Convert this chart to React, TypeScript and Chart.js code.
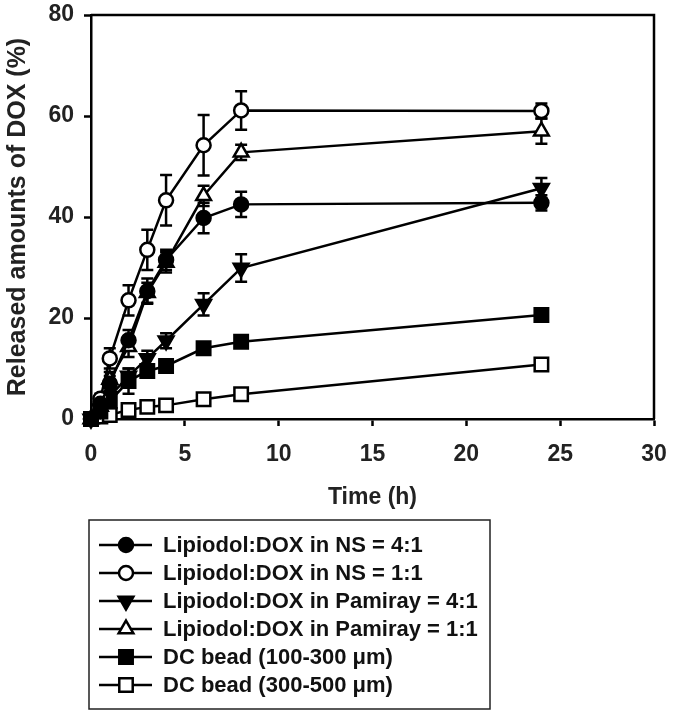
import React, { useEffect, useRef } from "react";
import { Chart, registerables } from "chart.js";

Chart.register(...registerables);

const times = [0, 0.5, 1, 2, 3, 4, 6, 8, 24];

const labels = [
  "Lipiodol:DOX in NS = 4:1",
  "Lipiodol:DOX in NS = 1:1",
  "Lipiodol:DOX in Pamiray = 4:1",
  "Lipiodol:DOX in Pamiray = 1:1",
  "DC bead (100-300 \u03bcm)",
  "DC bead (300-500 \u03bcm)",
];

const ns41 = [0, 3, 7, 15.6, 25.3, 31.5, 39.8, 42.5, 42.8];
const ns41Err = [0, 1, 1.5, 2, 2.5, 2, 3, 2.5, 1.5];
const ns11 = [0, 4, 12, 23.5, 33.5, 43.3, 54.2, 61.1, 61];
const ns11Err = [0, 1, 2, 3, 4, 5, 6, 3.8, 1.5];
const pam41 = [0, 2, 4.5, 8.5, 12, 15.5, 22.7, 29.9, 45.7];
const pam41Err = [0, 1, 1, 1.5, 1.5, 1.5, 2.2, 2.7, 2];
const pam11 = [0, 2.5, 7.8, 14.3, 25, 31, 44.2, 52.8, 57];
const pam11Err = [0, 1, 1.5, 2, 2, 2, 2, 1.5, 2.5];
const dc100 = [0, 1.5, 3.5, 7.5, 9.5, 10.5, 14, 15.3, 20.6];
const dc100Err = [0, 0.5, 1, 2.5, 1, 1, 1, 1, 1];
const dc300 = [0, 0.5, 0.8, 1.8, 2.4, 2.7, 3.9, 4.9, 10.8];
const dc300Err = [0, 0.3, 0.3, 0.3, 0.3, 0.3, 0.4, 0.4, 0.5];

const xTicks = [0, 5, 10, 15, 20, 25, 30];
const yTicks = [0, 20, 40, 60, 80];

const seriesValues = [ns41, ns11, pam41, pam11, dc100, dc300];
const seriesErrors = [ns41Err, ns11Err, pam41Err, pam11Err, dc100Err, dc300Err];
const seriesStyle = ["circle", "circle", "triangle", "triangle", "rect", "rect"];
const seriesFilled = [true, false, true, false, true, false];
const seriesRotation = [0, 0, 180, 0, 0, 0];

const FONT = "'Liberation Sans', Arial, sans-serif";

function radiusFor(style: string) {
  if (style === "rect") return 9.5;
  if (style === "triangle") return 8.5;
  return 7;
}

function drawMarker(ctx: CanvasRenderingContext2D, style: string, filled: boolean, rot: number, x: number, y: number) {
  const r = radiusFor(style);
  ctx.save();
  ctx.beginPath();
  if (style === "circle") {
    ctx.arc(x, y, r, 0, Math.PI * 2);
  } else if (style === "rect") {
    const s = Math.SQRT1_2 * r;
    ctx.rect(x - s, y - s, 2 * s, 2 * s);
  } else {
    let a = (rot * Math.PI) / 180;
    ctx.moveTo(x + Math.sin(a) * r, y - Math.cos(a) * r);
    a += (2 * Math.PI) / 3;
    ctx.lineTo(x + Math.sin(a) * r, y - Math.cos(a) * r);
    a += (2 * Math.PI) / 3;
    ctx.lineTo(x + Math.sin(a) * r, y - Math.cos(a) * r);
    ctx.closePath();
  }
  ctx.fillStyle = filled ? "#000" : "#fff";
  ctx.fill();
  ctx.lineWidth = 2.5;
  ctx.strokeStyle = "#000";
  ctx.stroke();
  ctx.restore();
}

const errorBarPlugin = {
  id: "errorBars",
  beforeDatasetsDraw(chart: any) {
    const ctx = chart.ctx as CanvasRenderingContext2D;
    const xs = chart.scales.x;
    const ys = chart.scales.y;
    ctx.save();
    ctx.strokeStyle = "#000";
    ctx.lineWidth = 2.5;
    seriesValues.forEach((vals, si) => {
      const errs = seriesErrors[si];
      vals.forEach((v, i) => {
        const e = errs[i];
        if (!e) return;
        const px = xs.getPixelForValue(times[i]);
        const top = ys.getPixelForValue(v + e);
        const bot = ys.getPixelForValue(v - e);
        ctx.beginPath();
        ctx.moveTo(px, top);
        ctx.lineTo(px, bot);
        ctx.moveTo(px - 6, top);
        ctx.lineTo(px + 6, top);
        ctx.moveTo(px - 6, bot);
        ctx.lineTo(px + 6, bot);
        ctx.stroke();
      });
    });
    ctx.restore();
  },
};

const framePlugin = {
  id: "frame",
  afterDraw(chart: any) {
    const ctx = chart.ctx as CanvasRenderingContext2D;
    const a = chart.chartArea;
    ctx.save();
    ctx.strokeStyle = "#000";
    ctx.lineWidth = 2.5;
    ctx.beginPath();
    ctx.moveTo(a.left, a.top);
    ctx.lineTo(a.right, a.top);
    ctx.lineTo(a.right, a.bottom);
    ctx.stroke();
    ctx.restore();

    // legend box
    const boxL = 89, boxT = 520, boxR = 490, boxB = 709;
    ctx.save();
    ctx.strokeStyle = "#222";
    ctx.lineWidth = 1.5;
    ctx.strokeRect(boxL, boxT, boxR - boxL, boxB - boxT);
    ctx.font = `bold 22px ${FONT}`;
    ctx.fillStyle = "#111";
    ctx.textBaseline = "middle";
    ctx.textAlign = "left";
    labels.forEach((lab, i) => {
      const y = 545 + i * 28;
      ctx.strokeStyle = "#000";
      ctx.lineWidth = 2.5;
      ctx.beginPath();
      ctx.moveTo(99, y);
      ctx.lineTo(152, y);
      ctx.stroke();
      drawMarker(ctx, seriesStyle[i], seriesFilled[i], seriesRotation[i], 126, y);
      ctx.fillStyle = "#111";
      ctx.fillText(lab, 163, y + 1);
    });
    ctx.restore();
  },
};

export default function App() {
  const ref = useRef<HTMLCanvasElement | null>(null);

  useEffect(() => {
    if (!ref.current) return;
    const datasets = seriesValues.map((vals, si) => ({
      label: labels[si],
      data: vals.map((v, i) => ({ x: times[i], y: v })),
      borderColor: "#000",
      borderWidth: 2.5,
      backgroundColor: seriesFilled[si] ? "#000" : "#fff",
      pointBackgroundColor: seriesFilled[si] ? "#000" : "#fff",
      pointBorderColor: "#000",
      pointBorderWidth: 2.5,
      pointStyle: seriesStyle[si],
      pointRotation: seriesRotation[si],
      pointRadius: radiusFor(seriesStyle[si]),
      pointHoverRadius: radiusFor(seriesStyle[si]),
      tension: 0,
      fill: false,
      clip: false as any,
    }));

    const chart = new Chart(ref.current, {
      type: "line",
      data: { datasets },
      options: {
        animation: false,
        responsive: false,
        devicePixelRatio: 1,
        events: [],
        layout: { padding: { top: 15, right: 19, bottom: 206, left: 0 } },
        plugins: {
          legend: { display: false },
          tooltip: { enabled: false },
        },
        scales: {
          x: {
            type: "linear",
            min: 0,
            max: 30,
            afterFit: (s: any) => {
              s.height = 92;
              s.paddingLeft = 0;
              s.paddingRight = 0;
            },
            afterBuildTicks: (s: any) => { s.ticks = xTicks.map((v) => ({ value: v })); },
            ticks: {
              color: "#222",
              font: { family: FONT, size: 23, weight: "bold" },
              padding: 15,
              maxRotation: 0,
            },
            grid: {
              drawOnChartArea: false,
              drawTicks: true,
              tickLength: 7,
              tickWidth: 2.5,
              tickColor: "#000",
              color: "#000",
            },
            border: { color: "#000", width: 2.5 },
            title: {
              display: true,
              text: "Time (h)",
              color: "#222",
              font: { family: FONT, size: 23, weight: "bold" },
              padding: { top: 0, bottom: 0 },
            },
          },
          y: {
            type: "linear",
            min: 0,
            max: 80,
            afterFit: (s: any) => {
              s.width = 91;
              s.paddingTop = 0;
              s.paddingBottom = 0;
            },
            afterBuildTicks: (s: any) => { s.ticks = yTicks.map((v) => ({ value: v })); },
            ticks: {
              color: "#222",
              font: { family: FONT, size: 23, weight: "bold" },
              padding: 10,
            },
            grid: {
              drawOnChartArea: false,
              drawTicks: true,
              tickLength: 7,
              tickWidth: 2.5,
              tickColor: "#000",
              color: "#000",
            },
            border: { color: "#000", width: 2.5 },
            title: {
              display: true,
              text: "Released amounts of DOX (%)",
              color: "#222",
              font: { family: FONT, size: 25, weight: "bold" },
              padding: { top: 3, bottom: 0 },
            },
          },
        },
      } as any,
      plugins: [errorBarPlugin, framePlugin],
    });
    return () => chart.destroy();
  }, []);

  return (
    <div style={{ position: "absolute", left: 0, top: 0, width: 673, height: 717, background: "#fff" }}>
      <canvas ref={ref} width={673} height={717} style={{ display: "block" }} />
    </div>
  );
}
